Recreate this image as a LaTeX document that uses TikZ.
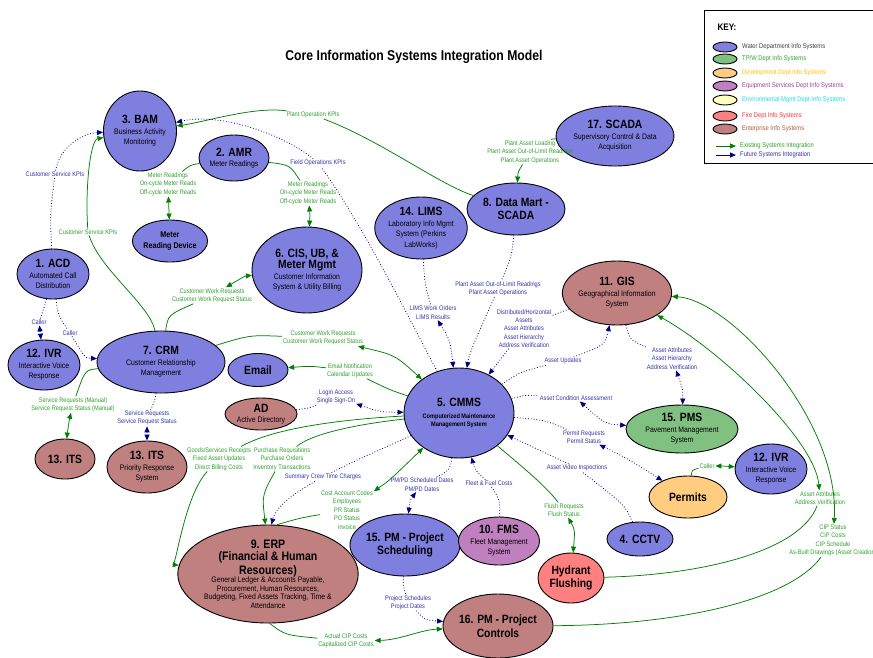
\documentclass[tikz,border=0pt]{standalone}
\usepackage{fontspec}
\setmainfont{Liberation Sans}[FakeStretch=0.86]
\usetikzlibrary{arrows.meta,shapes.geometric}

% fills for the department groups
\definecolor{waterfill}{HTML}{7F7FE0}
\definecolor{tpwfill}{HTML}{80C080}
\definecolor{devfill}{HTML}{FFCC80}
\definecolor{equipfill}{HTML}{C080C0}
\definecolor{envfill}{HTML}{FFFFC0}
\definecolor{firefill}{HTML}{FF8080}
\definecolor{entfill}{HTML}{C08080}
% connectors and their captions
\definecolor{exgreen}{HTML}{008000}
\definecolor{futblue}{HTML}{000080}
\definecolor{glabel}{HTML}{30A030}
\definecolor{blabel}{HTML}{3535A5}
% key captions
\definecolor{keywater}{HTML}{404040}
\definecolor{keydev}{HTML}{FFC000}
\definecolor{keyequip}{HTML}{A040A0}
\definecolor{keyenv}{HTML}{20D8F0}
\definecolor{keyfire}{HTML}{FF3030}
\definecolor{keyent}{HTML}{B05A3C}

\newcommand\sysname{\fontsize{12}{13.5}\selectfont\bfseries}
\newcommand\sysdesc{\fontsize{8}{10.5}\selectfont}
\newcommand\erpname{\fontsize{12.3}{14}\selectfont\bfseries}
\newcommand\erpdesc{\fontsize{8}{8.2}\selectfont}
\newcommand\lblfont{\fontsize{6.6}{8.4}\selectfont}
\newcommand\keyfont{\fontsize{6.8}{8}\selectfont}

\tikzset{
  sys/.style={ellipse, draw=black, line width=0.9pt, inner sep=0pt, align=center, font=\sysdesc},
  water/.style={sys, fill=waterfill},
  tpw/.style={sys, fill=tpwfill},
  devel/.style={sys, fill=devfill},
  equip/.style={sys, fill=equipfill},
  envir/.style={sys, fill=envfill},
  fire/.style={sys, fill=firefill},
  enterprise/.style={sys, fill=entfill},
  gline/.style={exgreen, line width=0.75pt},
  bline/.style={futblue, line width=0.8pt, dotted},
  glab/.style={font=\lblfont, text=glabel, align=center, inner sep=0.8pt},
  blab/.style={font=\lblfont, text=blabel, align=center, inner sep=0.8pt},
  keyshape/.style={ellipse, draw=black, line width=0.9pt, minimum width=24pt, minimum height=10pt, inner sep=0pt},
  keytext/.style={font=\keyfont, anchor=west, inner sep=0pt},
  >={Triangle[length=6pt,width=5pt]}
}

\begin{document}
\begin{tikzpicture}[x=1pt,y=-1pt]
\fill[white] (0,0) rectangle (873,657);
\useasboundingbox (0,0) rectangle (873,657);

% title
\node[font=\fontsize{14.2}{16}\selectfont\bfseries] (title) at (414,57) {Core Information Systems Integration Model};

% key
\draw[black, line width=0.9pt] (704,163) -- (704,10) -- (880,10);
\draw[black, line width=0.9pt] (704,163) -- (880,163);
\node[font=\fontsize{9.5}{10}\selectfont\bfseries, anchor=west] (keyhead) at (714,27) {KEY:};
\node[keyshape, fill=waterfill] (kwater) at (725,47) {};
\node[keyshape, fill=tpwfill] (ktpw) at (725,59) {};
\node[keyshape, fill=devfill] (kdev) at (725,73) {};
\node[keyshape, fill=equipfill] (kequip) at (725,86) {};
\node[keyshape, fill=envfill] (kenv) at (725,100) {};
\node[keyshape, fill=firefill] (kfire) at (725,116) {};
\node[keyshape, fill=entfill] (kent) at (725,129) {};
\node[keytext, text=keywater] (twater) at (742,47) {Water Department Info Systems};
\node[keytext, text=glabel] (ttpw) at (742,59) {TP/W Dept Info Systems};
\node[keytext, text=keydev] (tdev) at (742,73) {Development Dept Info Systems};
\node[keytext, text=keyequip] (tequip) at (742,86) {Equipment Services Dept Info Systems};
\node[keytext, text=keyenv] (tenv) at (742,100) {Environmental Mgmt Dept Info Systems};
\node[keytext, text=keyfire] (tfire) at (742,116) {Fire Dept Info Systems};
\node[keytext, text=keyent] (tent) at (742,129) {Enterprise Info Systems};
\coordinate (kexA) at (716,146);
\coordinate (kexB) at (736,146);
\coordinate (kfuA) at (716,155);
\coordinate (kfuB) at (736,155);
\draw[gline, line width=1pt, ->] (kexA) -- (kexB);
\draw[futblue, line width=1pt, ->] (kfuA) -- (kfuB);
\node[keytext, text=glabel] (texist) at (740,146) {Existing Systems Integration};
\node[keytext, text=blabel] (tfut) at (740,155) {Future Systems Integration};

% systems
\node[water, minimum width=72pt, minimum height=80pt] (bam) at (140,131) {{\sysname 3. BAM}\\Business Activity\\Monitoring};
\node[water, minimum width=70pt, minimum height=46pt] (amr) at (234,158) {{\sysname 2. AMR}\\Meter Readings};
\node[water, minimum width=72pt, minimum height=42pt, font=\fontsize{8.3}{10.5}\selectfont\bfseries] (mrd) at (170,241) {Meter\\Reading Device};
\node[water, minimum width=72pt, minimum height=50pt] (acd) at (53,274) {{\sysname 1. ACD}\\Automated Call\\Distribution};
\node[water, minimum width=110pt, minimum height=86pt] (cis) at (307,270) {{\sysname 6. CIS, UB, \&}\\[1pt]{\sysname Meter Mgmt}\\Customer Information\\System \& Utility Billing};
\node[water, minimum width=90pt, minimum height=62pt] (lims) at (421,228) {{\sysname 14. LIMS}\\Laboratory Info Mgmt\\System (Perkins\\LabWorks)};
\node[water, minimum width=98pt, minimum height=52pt, font=\sysname] (dm) at (516,209) {8. Data Mart -\\SCADA};
\node[water, minimum width=110pt, minimum height=60pt] (scada) at (615,136) {{\sysname 17. SCADA}\\Supervisory Control \& Data\\Acquisition};
\node[enterprise, minimum width=108pt, minimum height=64pt] (gis) at (617,293) {{\sysname 11. GIS}\\Geographical Information\\System};
\node[water, minimum width=128pt, minimum height=62pt] (crm) at (161,362) {{\sysname 7. CRM}\\Customer Relationship\\Management};
\node[water, minimum width=72pt, minimum height=50pt] (ivrl) at (44,365) {{\sysname 12. IVR}\\Interactive Voice\\Response};
\node[water, minimum width=60pt, minimum height=33pt, font=\sysname] (email) at (258,370) {Email};
\node[enterprise, minimum width=72pt, minimum height=32pt] (ad) at (261,414) {{\sysname AD}\\Active Directory};
\node[water, minimum width=110pt, minimum height=90pt] (cmms) at (459,413) {{\sysname 5. CMMS}\\[1pt]{\fontsize{6.5}{8}\selectfont\bfseries Computerized Maintenance}\\[-2pt]{\fontsize{6.5}{8}\selectfont\bfseries Management System}};
\node[enterprise, minimum width=60pt, minimum height=40pt, font=\sysname] (itsl) at (65,459) {13. ITS};
\node[enterprise, minimum width=80pt, minimum height=52pt] (itsp) at (147,467) {{\sysname 13. ITS}\\Priority Response\\System};
\node[enterprise, minimum width=164pt, minimum height=98pt] (erp) at (268,574) {{\erpname 9. ERP}\\[2pt]{\erpname (Financial \& Human}\\[1pt]{\erpname Resources)}\\[-2pt]{\erpdesc General Ledger \& Accounts Payable,}\\[-2pt]{\erpdesc Procurement, Human Resources,}\\[-2pt]{\erpdesc Budgeting, Fixed Assets Tracking, Time \&}\\[-2pt]{\erpdesc Attendance}};
\node[water, minimum width=98pt, minimum height=62pt, font=\sysname] (pmsched) at (405,545) {15. PM - Project\\Scheduling};
\node[equip, minimum width=80pt, minimum height=48pt] (fms) at (499,541) {{\sysname 10. FMS}\\Fleet Management\\System};
\node[fire, minimum width=66pt, minimum height=50pt, font=\sysname] (hyd) at (571,578) {Hydrant\\Flushing};
\node[water, minimum width=66pt, minimum height=34pt, font=\sysname] (cctv) at (640,539) {4. CCTV};
\node[devel, minimum width=78pt, minimum height=42pt, font=\sysname] (permits) at (688,497) {Permits};
\node[water, minimum width=72pt, minimum height=50pt] (ivrr) at (771,469) {{\sysname 12. IVR}\\Interactive Voice\\Response};
\node[tpw, minimum width=112pt, minimum height=48pt] (pms) at (682,429) {{\sysname 15. PMS}\\Pavement Management\\System};
\node[enterprise, minimum width=110pt, minimum height=64pt, font=\sysname] (pmc) at (498,626) {16. PM - Project\\Controls};

% captions on the connectors
\node[glab] (lScada) at (530,152) {Plant Asset Loading\\Plant Asset Out-of-Limit Readings\\Plant Asset Operations};
\node[glab] (lPok) at (313,115) {Plant Operation KPIs};
\node[blab] (lFok) at (318,163) {Field Operations KPIs};
\node[glab] (lMr1) at (168,184) {Meter Readings\\On-cycle Meter Reads\\Off-cycle Meter Reads};
\node[glab] (lMr2) at (308,193) {Meter Readings\\On-cycle Meter Reads\\Off-cycle Meter Reads};
\node[glab] (lCwr1) at (212,295.5) {Customer Work Requests\\Customer Work Request Status};
\node[glab] (lCsk1) at (88,232) {Customer Service KPIs};
\node[blab] (lCsk2) at (55,174) {Customer Service KPIs};
\node[blab] (lCaller1) at (39,322) {Caller};
\node[blab] (lCaller2) at (70,333) {Caller};
\node[glab] (lSrm) at (73,404.5) {Service Requests (Manual)\\Service Request Status (Manual)};
\node[blab] (lSr) at (147,418) {Service Requests\\Service Request Status};
\node[glab] (lCwr2) at (323,338) {Customer Work Requests\\Customer Work Request Status};
\node[glab] (lEmail) at (350,370.5) {Email Notification\\Calendar Updates};
\node[blab] (lLogin) at (336,397) {Login Access\\Single Sign-On};
\node[glab] (lGoods) at (219,459) {Goods/Services Receipts\\Fixed Asset Updates\\Direct Billing Costs};
\node[glab] (lPurch) at (282,459) {Purchase Requisitions\\Purchase Orders\\Inventory Transactions};
\node[glab] (lCost) at (347,510) {Cost Account Codes\\Employees\\PR Status\\PO Status\\Invoice};
\node[blab] (lPmpd) at (422,484.5) {PM/PD Scheduled Dates\\PM/PD Dates};
\node[blab] (lFleet) at (489,483) {Fleet \& Fuel Costs};
\node[glab] (lFlush) at (564,510) {Flush Requests\\Flush Status};
\node[blab] (lVideo) at (577,468) {Asset Video Inspections};
\node[blab] (lPermit) at (584,437) {Permit Requests\\Permit Status};
\node[blab] (lCond) at (576,398) {Asset Condition Assessment};
\node[blab] (lAupd) at (563,361) {Asset Updates};
\node[blab] (lDist) at (524,328.5) {Distributed/Horizontal\\Assets\\Asset Attributes\\Asset Hierarchy\\Address Verification};
\node[blab] (lAttr1) at (672,358.5) {Asset Attributes\\Asset Hierarchy\\Address Verification};
\node[blab] (lPlant) at (498,289) {Plant Asset Out-of-Limit Readings\\Plant Asset Operations};
\node[blab] (lLims) at (433,312.5) {LIMS Work Orders\\LIMS Results};
\node[glab] (lAttr2) at (820,498) {Asset Attributes\\Address Verification};
\node[glab] (lCip) at (833,540.5) {CIP Status\\CIP Costs\\CIP Schedule\\As-Built Drawings (Asset Creation)};
\node[glab] (lActual) at (346,641) {Actual CIP Costs\\Capitalized CIP Costs};
\node[blab] (lProj) at (408,602.5) {Project Schedules\\Project Dates};
\node[glab] (lCaller3) at (707,466) {Caller};

% existing integrations
\draw[gline,->] (scada) .. controls (552,139) .. (lScada) (lScada) .. controls (518,172) .. (dm);
\draw[gline,->] (dm) .. controls (440,185) and (380,140) .. (lPok) (lPok) .. controls (255,106) and (205,122) .. (bam);
\draw[gline,<->] (amr) .. controls (190,165) .. (lMr1) (lMr1) -- (mrd);
\draw[gline,<->] (amr) .. controls (290,165) .. (lMr2) (lMr2) .. controls (310,215) .. (cis);
\draw[gline,<->] (crm) .. controls (168,315) .. (lCwr1) (lCwr1) .. controls (245,276) .. (cis);
\draw[gline,->] (crm) .. controls (150,305) and (100,270) .. (lCsk1) (lCsk1) .. controls (85,190) and (90,140) .. (bam);
\draw[gline,<->] (crm) .. controls (85,370) .. (lSrm) (lSrm) .. controls (68,425) .. (itsl);
\draw[gline,<->] (crm) .. controls (250,335) .. (lCwr2) (lCwr2) .. controls (395,355) .. (cmms);
\draw[gline,->] (cmms) .. controls (390,390) .. (lEmail) (lEmail) .. controls (310,366) .. (email);
\draw[gline,->] (cmms) .. controls (330,420) and (270,430) .. (lGoods) (lGoods) .. controls (185,495) and (176,565) .. (erp);
\draw[gline,->] (cmms) .. controls (350,425) and (310,435) .. (lPurch) (lPurch) .. controls (262,495) .. (erp.93);
\draw[gline,<->] (erp.80) .. controls (300,518) .. (lCost) (lCost) .. controls (390,480) .. (cmms);
\draw[gline,<->] (cmms) .. controls (520,465) and (545,485) .. (lFlush) (lFlush) .. controls (575,530) .. (hyd);
\draw[gline,<->] (hyd) .. controls (700,575) and (800,552) .. (lAttr2) (lAttr2) .. controls (815,440) and (720,350) .. (gis);
\draw[gline,<->] (pmc) .. controls (680,625) and (790,600) .. (lCip) (lCip) .. controls (840,420) and (730,300) .. (gis);
\draw[gline,<->] (erp.-88) .. controls (285,635) .. (lActual) (lActual) .. controls (400,640) and (420,630) .. (pmc);
\draw[gline,<->] (permits) .. controls (692,470) .. (lCaller3) (lCaller3) .. controls (722,466) .. (ivrr);

% future integrations
\draw[bline,->] (cmms) .. controls (410,320) and (360,220) .. (lFok) (lFok) .. controls (285,135) and (220,112) .. (bam);
\draw[bline,->] (acd) .. controls (50,215) .. (lCsk2) (lCsk2) .. controls (60,145) and (85,133) .. (bam);
\draw[bline,<->] (acd) .. controls (45,305) .. (lCaller1) (lCaller1) -- (ivrl);
\draw[bline,->] (acd) .. controls (58,315) .. (lCaller2) (lCaller2) .. controls (85,358) .. (crm);
\draw[bline,<->] (crm) .. controls (155,400) .. (lSr) (lSr) -- (itsp);
\draw[bline,<->] (ad) .. controls (310,408) .. (lLogin) (lLogin) .. controls (380,412) .. (cmms);
\draw[bline,->] (cmms) .. controls (370,455) and (280,490) .. (erp.86);
\node[blab, fill=white] (lSummary) at (323,477) {Summary Crew Time Charges};
\draw[bline,<->] (cmms) .. controls (450,470) .. (lPmpd) (lPmpd) .. controls (410,500) .. (pmsched);
\draw[bline,->] (fms) .. controls (500,500) .. (lFleet) (lFleet) .. controls (475,470) .. (cmms);
\draw[bline,->] (cctv) .. controls (625,505) .. (lVideo) (lVideo) .. controls (540,450) .. (cmms);
\draw[bline,<->] (cmms) .. controls (545,420) .. (lPermit) (lPermit) .. controls (630,460) .. (permits);
\draw[bline,<->] (cmms) .. controls (525,395) .. (lCond) (lCond) .. controls (605,424) .. (pms);
\draw[bline,->] (cmms) .. controls (520,372) .. (lAupd) (lAupd) .. controls (605,345) .. (gis);
\draw[bline,->] (gis) .. controls (560,312) .. (lDist) (lDist) .. controls (500,360) .. (cmms);
\draw[bline,<->] (gis) .. controls (630,340) .. (lAttr1) (lAttr1) .. controls (683,390) .. (pms);
\draw[bline,->] (dm) .. controls (512,255) .. (lPlant) (lPlant) .. controls (480,330) and (470,350) .. (cmms);
\draw[bline,<->] (lims) .. controls (425,285) .. (lLims) (lLims) .. controls (450,340) .. (cmms);
\draw[bline,->] (pmsched) .. controls (403,585) .. (lProj) (lProj) .. controls (425,620) .. (pmc);
\end{tikzpicture}
\end{document}
